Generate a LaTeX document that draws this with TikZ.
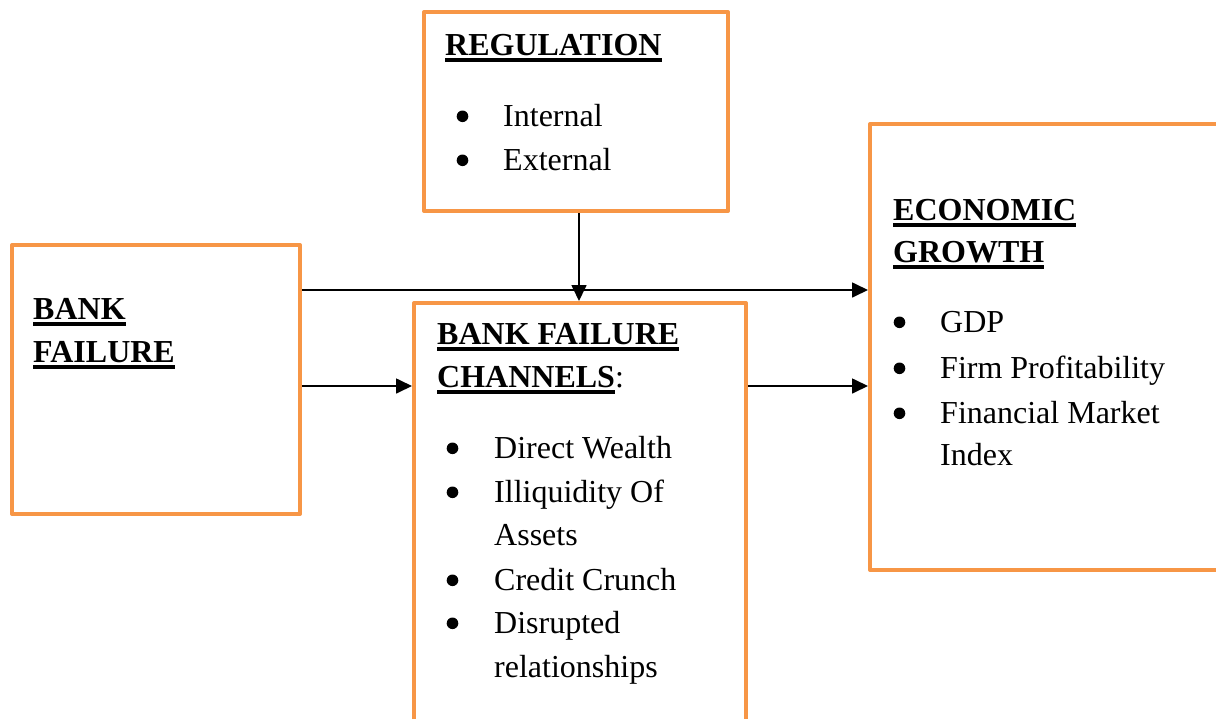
\documentclass[tikz,border=0pt]{standalone}
\usepackage{fontspec}
\setmainfont{Liberation Serif}
\usetikzlibrary{arrows.meta}
\definecolor{boxorange}{HTML}{F79646}
\newcommand\myul[1]{\setbox0=\hbox{#1}\rlap{\rule[-6.5pt]{\wd0}{3.2pt}}\box0}
\begin{document}
\begin{tikzpicture}[x=1pt,y=-1pt,
 box/.style={draw=boxorange, line width=4pt, rectangle, inner sep=0pt, line join=round},
 txt/.style={anchor=base west, inner sep=0pt, font=\fontsize{32}{44}\selectfont},
 hd/.style={anchor=base west, inner sep=0pt, font=\fontsize{32}{44}\selectfont\bfseries},
 bul/.style={circle, fill=black, inner sep=0pt, minimum size=11.6pt, yshift=9.7pt},
 arr/.style={-{Triangle[length=16pt,width=15pt]}, line width=1.7pt, black}]
\clip (0,0) rectangle (1216,718);
\fill[white] (0,0) rectangle (1216,718);
% boxes
\node[box, minimum width=304pt, minimum height=199pt] (reg) at (576,111.5) {};
\node[box, minimum width=288pt, minimum height=269pt] (bf) at (156,379.5) {};
\node[box, minimum width=332pt, minimum height=457pt] (ch) at (580,531.5) {};
\node[box, minimum width=370pt, minimum height=446pt] (eg) at (1055,347) {};
% connector helpers
\coordinate (r1) at (0,290);
\coordinate (r2) at (0,386);
\coordinate (vc) at (579,0);
\draw[arr] (bf.east |- r1) -- (eg.west |- r1);
\draw[arr] (bf.east |- r2) -- (ch.west |- r2);
\draw[arr] (ch.east |- r2) -- (eg.west |- r2);
\draw[arr] (reg.south -| vc) -- (ch.north -| vc);
% regulation text
\node[hd] (regT) at (445,55) {\myul{REGULATION}};
\node[bul] (regB1) at (462.5,126) {};
\node[txt] (regI1) at (503,126) {Internal};
\node[bul] (regB2) at (462.5,170) {};
\node[txt] (regI2) at (503,170) {External};
% bank failure text
\node[hd] (bfT1) at (33,319) {\myul{BANK}};
\node[hd] (bfT2) at (33,362) {\myul{FAILURE}};
% channels text
\node[hd] (chT1) at (437,344) {\myul{BANK FAILURE}};
\node[txt] (chT2) at (437,387) {\bfseries\myul{CHANNELS}\mdseries:};
\node[bul] (chB1) at (452.5,458) {};
\node[txt] (chI1) at (494,458) {Direct Wealth};
\node[bul] (chB2) at (452.5,502) {};
\node[txt] (chI2) at (494,502) {Illiquidity Of};
\node[txt] (chI2b) at (494,545) {Assets};
\node[bul] (chB3) at (452.5,590) {};
\node[txt] (chI3) at (494,590) {Credit Crunch};
\node[bul] (chB4) at (452.5,633) {};
\node[txt] (chI4) at (494,633) {Disrupted};
\node[txt] (chI4b) at (494,677) {relationships};
% economic growth text
\node[hd] (egT1) at (893,220) {\myul{ECONOMIC}};
\node[hd] (egT2) at (893,262) {\myul{GROWTH}};
\node[bul] (egB1) at (899.5,332) {};
\node[txt] (egI1) at (940,332) {GDP};
\node[bul] (egB2) at (899.5,378) {};
\node[txt] (egI2) at (940,378) {Firm Profitability};
\node[bul] (egB3) at (899.5,423) {};
\node[txt] (egI3) at (940,423) {Financial Market};
\node[txt] (egI3b) at (940,465) {Index};
\end{tikzpicture}
\end{document}
